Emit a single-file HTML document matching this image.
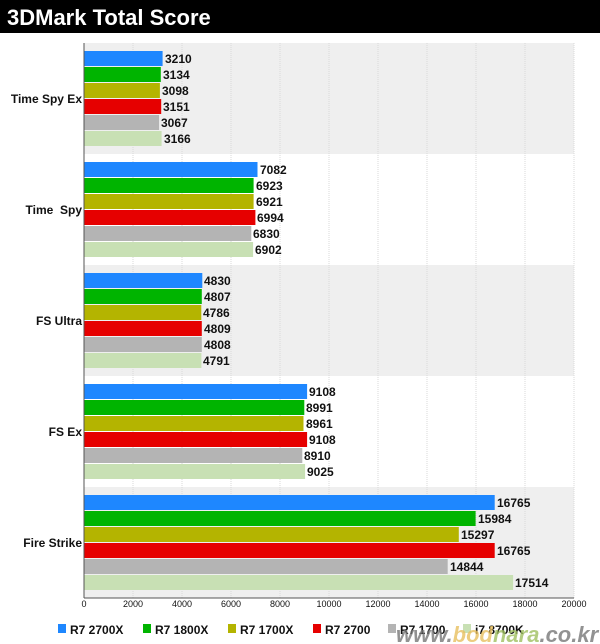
<!DOCTYPE html><html><head><style>body{margin:0;background:#fff}svg{display:block;font-family:"Liberation Sans",sans-serif}</style></head><body>
<svg width="600" height="644" xmlns="http://www.w3.org/2000/svg">
<rect x="0" y="0" width="600" height="33" fill="#000"/>
<text x="7" y="25" fill="#fff" font-size="22" font-weight="bold">3DMark Total Score</text>
<rect x="84" y="43" width="490" height="111" fill="#efefef"/>
<rect x="84" y="265" width="490" height="111" fill="#efefef"/>
<rect x="84" y="487" width="490" height="111" fill="#efefef"/>
<g stroke="#d8d8d8" stroke-dasharray="1,1">
<line x1="133" y1="43" x2="133" y2="598"/><line x1="182" y1="43" x2="182" y2="598"/><line x1="231" y1="43" x2="231" y2="598"/><line x1="280" y1="43" x2="280" y2="598"/><line x1="329" y1="43" x2="329" y2="598"/><line x1="378" y1="43" x2="378" y2="598"/><line x1="427" y1="43" x2="427" y2="598"/><line x1="476" y1="43" x2="476" y2="598"/><line x1="525" y1="43" x2="525" y2="598"/><line x1="574" y1="43" x2="574" y2="598"/>
</g>
<g>
<rect x="84" y="51" width="78.6" height="15" fill="#1e87ff"/><rect x="84" y="67" width="76.8" height="15" fill="#00b400"/><rect x="84" y="83" width="75.9" height="15" fill="#b4b400"/><rect x="84" y="99" width="77.2" height="15" fill="#e60000"/><rect x="84" y="115" width="75.1" height="15" fill="#b4b4b4"/><rect x="84" y="131" width="77.6" height="15" fill="#c8e0b4"/>
<rect x="84" y="162" width="173.5" height="15" fill="#1e87ff"/><rect x="84" y="178" width="169.6" height="15" fill="#00b400"/><rect x="84" y="194" width="169.6" height="15" fill="#b4b400"/><rect x="84" y="210" width="171.4" height="15" fill="#e60000"/><rect x="84" y="226" width="167.3" height="15" fill="#b4b4b4"/><rect x="84" y="242" width="169.1" height="15" fill="#c8e0b4"/>
<rect x="84" y="273" width="118.3" height="15" fill="#1e87ff"/><rect x="84" y="289" width="117.8" height="15" fill="#00b400"/><rect x="84" y="305" width="117.3" height="15" fill="#b4b400"/><rect x="84" y="321" width="117.8" height="15" fill="#e60000"/><rect x="84" y="337" width="117.8" height="15" fill="#b4b4b4"/><rect x="84" y="353" width="117.4" height="15" fill="#c8e0b4"/>
<rect x="84" y="384" width="223.1" height="15" fill="#1e87ff"/><rect x="84" y="400" width="220.3" height="15" fill="#00b400"/><rect x="84" y="416" width="219.5" height="15" fill="#b4b400"/><rect x="84" y="432" width="223.1" height="15" fill="#e60000"/><rect x="84" y="448" width="218.3" height="15" fill="#b4b4b4"/><rect x="84" y="464" width="221.1" height="15" fill="#c8e0b4"/>
<rect x="84" y="495" width="410.7" height="15" fill="#1e87ff"/><rect x="84" y="511" width="391.6" height="15" fill="#00b400"/><rect x="84" y="527" width="374.8" height="15" fill="#b4b400"/><rect x="84" y="543" width="410.7" height="15" fill="#e60000"/><rect x="84" y="559" width="363.7" height="15" fill="#b4b4b4"/><rect x="84" y="575" width="429.1" height="15" fill="#c8e0b4"/>
</g>
<g font-size="12" font-weight="bold" fill="#111">
<text x="165" y="63">3210</text><text x="163" y="79">3134</text><text x="162" y="95">3098</text><text x="163" y="111">3151</text><text x="161" y="127">3067</text><text x="164" y="143">3166</text>
<text x="260" y="174">7082</text><text x="256" y="190">6923</text><text x="256" y="206">6921</text><text x="257" y="222">6994</text><text x="253" y="238">6830</text><text x="255" y="254">6902</text>
<text x="204" y="285">4830</text><text x="204" y="301">4807</text><text x="203" y="317">4786</text><text x="204" y="333">4809</text><text x="204" y="349">4808</text><text x="203" y="365">4791</text>
<text x="309" y="396">9108</text><text x="306" y="412">8991</text><text x="306" y="428">8961</text><text x="309" y="444">9108</text><text x="304" y="460">8910</text><text x="307" y="476">9025</text>
<text x="497" y="507">16765</text><text x="478" y="523">15984</text><text x="461" y="539">15297</text><text x="497" y="555">16765</text><text x="450" y="571">14844</text><text x="515" y="587">17514</text>
</g>
<line x1="84" y1="43" x2="84" y2="598" stroke="#555"/>
<line x1="84" y1="598" x2="574" y2="598" stroke="#555"/>
<g font-size="12" font-weight="bold" text-anchor="end" fill="#111">
<text x="82" y="103">Time Spy Ex</text><text x="82" y="214">Time&#160; Spy</text><text x="82" y="325">FS Ultra</text><text x="82" y="436">FS Ex</text><text x="82" y="547">Fire Strike</text>
</g>
<g font-size="9" text-anchor="middle" fill="#111">
<text x="84" y="607">0</text><text x="133" y="607">2000</text><text x="182" y="607">4000</text><text x="231" y="607">6000</text><text x="280" y="607">8000</text><text x="329" y="607">10000</text><text x="378" y="607">12000</text><text x="427" y="607">14000</text><text x="476" y="607">16000</text><text x="525" y="607">18000</text><text x="574" y="607">20000</text>
</g>
<g font-size="12" font-weight="bold" fill="#111">
<rect x="58" y="624" width="8" height="9" fill="#1e87ff"/><text x="70" y="634">R7 2700X</text>
<rect x="143" y="624" width="8" height="9" fill="#00b400"/><text x="155" y="634">R7 1800X</text>
<rect x="228" y="624" width="8" height="9" fill="#b4b400"/><text x="240" y="634">R7 1700X</text>
<rect x="313" y="624" width="8" height="9" fill="#e60000"/><text x="325" y="634">R7 2700</text>
<rect x="388" y="624" width="8" height="9" fill="#b4b4b4"/><text x="400" y="634">R7 1700</text>
<rect x="463" y="624" width="8" height="9" fill="#c8e0b4"/><text x="475" y="634">i7 8700K</text>
<text x="396" y="642" font-size="22" font-style="italic" fill="#777" opacity="0.8">www.<tspan fill="#e8c060">bod</tspan><tspan fill="#a0c060">nara</tspan>.co.kr</text>
</g>
</svg></body></html>
